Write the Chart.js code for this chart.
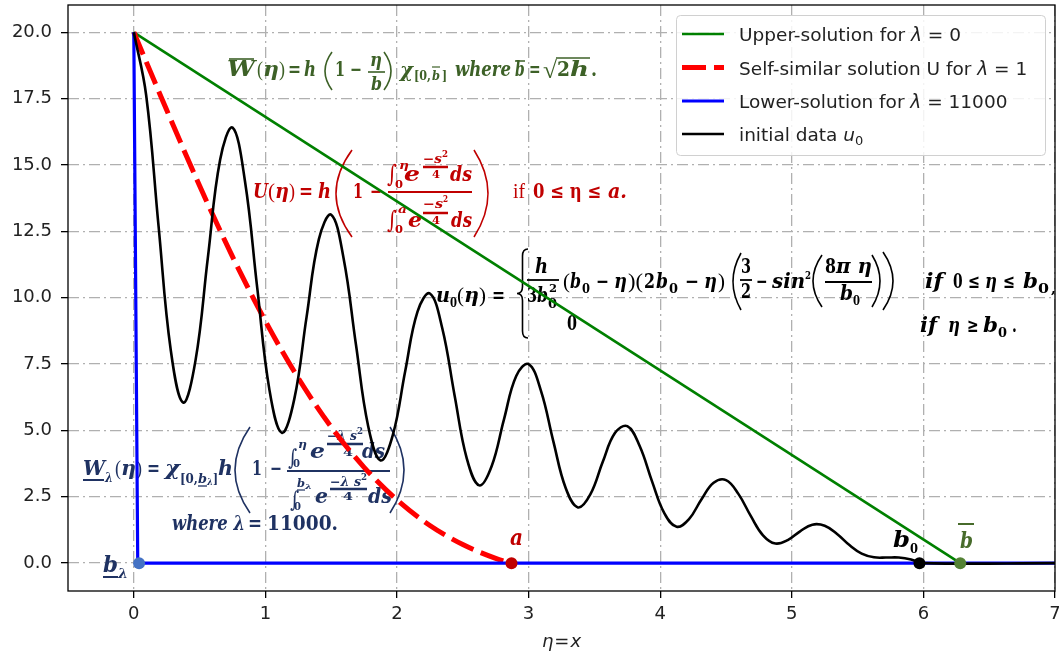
<!DOCTYPE html>
<html>
<head>
<meta charset="utf-8">
<script src="https://cdn.jsdelivr.net/npm/chart.js@4.4.1/dist/chart.umd.min.js"></script>
<style>
  html, body { margin: 0; padding: 0; background: #fff; overflow: hidden; }
  canvas { display: block; }
</style>
</head>
<body>
<canvas id="c" width="1059" height="654"></canvas>
<script>
// ---- data ----------------------------------------------------------------
// initial data u0(eta)
const u0Eta = [0, 0.094, 0.188, 0.281, 0.375, 0.469, 0.563, 0.656, 0.75, 0.844, 0.938, 1.031,
  1.125, 1.219, 1.313, 1.406, 1.5, 1.594, 1.688, 1.781, 1.875, 1.969, 2.063, 2.156, 2.25, 2.344,
  2.438, 2.531, 2.625, 2.719, 2.813, 2.906, 3, 3.094, 3.188, 3.281, 3.375, 3.469, 3.563, 3.656,
  3.75, 3.844, 3.938, 4.031, 4.125, 4.219, 4.313, 4.406, 4.5, 4.594, 4.688, 4.781, 4.875, 4.969,
  5.063, 5.156, 5.25, 5.344, 5.438, 5.531, 5.625, 5.719, 5.813, 5.906, 6, 7];
const u0Val = [20.0, 17.63, 12.71, 8.02, 6.05, 7.64, 11.52, 15.20, 16.41, 14.42, 10.37, 6.52,
  4.91, 6.17, 9.28, 12.20, 13.13, 11.49, 8.24, 5.16, 3.87, 4.84, 7.25, 9.48, 10.16, 8.85,
  6.31, 3.93, 2.93, 3.65, 5.42, 7.05, 7.50, 6.49, 4.59, 2.84, 2.10, 2.59, 3.81, 4.90,
  5.16, 4.41, 3.08, 1.88, 1.37, 1.66, 2.40, 3.03, 3.13, 2.61, 1.78, 1.05, 0.74, 0.87,
  1.20, 1.45, 1.41, 1.10, 0.68, 0.36, 0.22, 0.21, 0.21, 0.14, 0, 0];

// self-similar solution U (lambda = 1)
const uEta = [0, 0.25, 0.5, 0.75, 1, 1.25, 1.5, 1.75, 2, 2.25, 2.5, 2.75, 2.87];
const uVal = [20, 17.07, 14.22, 11.55, 9.12, 6.97, 5.13, 3.61, 2.38, 1.42, 0.70, 0.18, 0];

// upper solution (lambda = 0)
const upperEta = [0, 6.28];
const upperVal = [20, 0];

// lower solution (lambda = 11000)
const lowerEta = [0, 0.03, 7];
const lowerVal = [20, 0, 0];

// marked points b_lambda, a, b0, b-bar
const markEta = [0.04, 2.87, 5.97, 6.28];
const markVal = [0, 0, 0, 0];
const markColors = ['#4472c4', '#c00000', '#000000', '#548235'];

// axes
const xTicks = [0, 1, 2, 3, 4, 5, 6, 7];
const yTicks = [0, 2.5, 5, 7.5, 10, 12.5, 15, 17.5, 20];

const seriesLabels = [
  'Upper-solution for λ = 0',
  'Self-similar solution U for λ = 1',
  'Lower-solution for λ = 11000',
  'initial data u0'
];

// ---- helpers -------------------------------------------------------------
const pts = (xs, ys) => xs.map((x, i) => ({ x: x, y: ys[i] }));
const FORM = '"DejaVu Serif", "Liberation Serif", serif';
const FORM_R = '"Liberation Serif", "DejaVu Serif", serif';
const SANS = '"DejaVu Sans", "Liberation Sans", sans-serif';

function styleFont(st, size) {
  const s = Math.round(size * 0.9 * 10) / 10;
  switch (st) {
    case 'bi': return `italic bold ${s}px ${FORM}`;
    case 'b': return `normal bold ${s}px ${FORM}`;
    case 'int': return `normal normal ${size}px "DejaVu Serif", serif`;
    default: return `normal normal ${size}px ${FORM_R}`;
  }
}

// text stretched to span x1..x2 on a baseline y
function fitText(ctx, s, x1, x2, y, st, size) {
  ctx.font = styleFont(st, size);
  const w = ctx.measureText(s).width || 1;
  let k = (x2 - x1) / w;
  k = Math.max(0.7, Math.min(1.45, k));
  ctx.save();
  ctx.translate(x1, y);
  ctx.scale(k, 1);
  ctx.textAlign = 'left';
  ctx.textBaseline = 'alphabetic';
  ctx.fillText(s, 0, 0);
  ctx.restore();
}

function hline(ctx, x1, x2, y, lw) {
  ctx.beginPath();
  ctx.lineWidth = lw;
  ctx.moveTo(x1, y);
  ctx.lineTo(x2, y);
  ctx.stroke();
}

function paren(ctx, x1, x2, y1, y2, side) {
  const mid = (y1 + y2) / 2;
  ctx.beginPath();
  ctx.lineWidth = 1.6;
  if (side === 'L') {
    ctx.moveTo(x2, y1);
    ctx.quadraticCurveTo(2 * x1 - x2, mid, x2, y2);
  } else {
    ctx.moveTo(x1, y1);
    ctx.quadraticCurveTo(2 * x2 - x1, mid, x1, y2);
  }
  ctx.stroke();
}

function brace(ctx, x1, x2, y1, y2) {
  const xm = (x1 + x2) / 2, mid = (y1 + y2) / 2, r = 7;
  ctx.beginPath();
  ctx.lineWidth = 1.6;
  ctx.moveTo(x2, y1);
  ctx.quadraticCurveTo(xm, y1, xm, y1 + r);
  ctx.lineTo(xm, mid - r);
  ctx.quadraticCurveTo(xm, mid, x1, mid);
  ctx.quadraticCurveTo(xm, mid, xm, mid + r);
  ctx.lineTo(xm, y2 - r);
  ctx.quadraticCurveTo(xm, y2, x2, y2);
  ctx.stroke();
}

function drawOps(ctx, color, ops) {
  ctx.save();
  ctx.fillStyle = color;
  ctx.strokeStyle = color;
  for (const o of ops) {
    if (o[0] === 't') fitText(ctx, o[1], o[2], o[3], o[4], o[5], o[6]);
    else if (o[0] === 'h') hline(ctx, o[1], o[2], o[3], o[4]);
    else if (o[0] === 'p') paren(ctx, o[1], o[2], o[3], o[4], o[5]);
    else if (o[0] === 'br') brace(ctx, o[1], o[2], o[3], o[4]);
  }
  ctx.restore();
}

// ---- formula layouts ------------------------------------------------------
const upperFormula = [
  ['t', 'W', 227, 255, 76, 'bi', 24], ['h', 229, 254, 59, 1.6],
  ['t', '(', 257, 263, 76, 'r', 22], ['t', 'η', 263, 279, 76, 'bi', 22], ['t', ')', 279, 285, 76, 'r', 22],
  ['t', '=', 288, 301, 76, 'b', 22], ['t', 'h', 304, 316, 76, 'bi', 22],
  ['p', 325, 332, 52, 90, 'L'],
  ['t', '1', 335, 345, 76, 'b', 22], ['t', '−', 350, 362, 76, 'b', 22],
  ['t', 'η', 370, 382, 66, 'bi', 20], ['h', 368, 385, 72, 1.6], ['t', 'b', 371, 382, 90, 'bi', 20],
  ['p', 384, 391, 52, 90, 'R'],
  ['t', 'χ', 400, 413, 77, 'bi', 22],
  ['t', '[0,', 414, 431, 80, 'b', 14], ['t', 'b', 432, 440, 80, 'bi', 14], ['h', 432, 440, 67, 1.2],
  ['t', ']', 442, 447, 80, 'b', 14],
  ['t', 'where', 455, 511, 76, 'bi', 22],
  ['t', 'b', 515, 524, 76, 'bi', 22], ['h', 515, 525, 61, 1.5],
  ['t', '=', 529, 540, 76, 'b', 22],
  ['t', '√', 543, 557, 78, 'r', 24], ['h', 556, 590, 58, 1.5],
  ['t', '2', 557, 570, 76, 'b', 22], ['t', 'h', 570, 589, 76, 'bi', 22], ['t', '.', 591, 597, 76, 'b', 22]
];

const selfSimilarFormula = [
  ['t', 'U', 253, 268, 198, 'bi', 22], ['t', '(', 268, 275, 198, 'r', 22], ['t', 'η', 275, 289, 198, 'bi', 22],
  ['t', ')', 289, 295, 198, 'r', 22], ['t', '=', 299, 313, 198, 'b', 22], ['t', 'h', 318, 331, 198, 'bi', 22],
  ['p', 336, 352, 150, 237, 'L'],
  ['t', '1', 353, 363, 198, 'b', 22], ['t', '−', 370, 382, 198, 'b', 22],
  ['t', '∫', 387, 397, 182, 'int', 24], ['t', '0', 395, 403, 188, 'b', 12], ['t', 'η', 399, 409, 169, 'bi', 13],
  ['t', 'e', 404, 420, 181, 'bi', 22],
  ['t', '−s', 423, 442, 163, 'bi', 14], ['t', '2', 442, 448, 157, 'b', 10], ['h', 423, 448, 167, 2.5],
  ['t', '4', 432, 440, 178, 'b', 13],
  ['t', 'ds', 450, 472, 181, 'bi', 22],
  ['h', 388, 472, 192, 2],
  ['t', '∫', 387, 397, 228, 'int', 24], ['t', '0', 395, 403, 233, 'b', 12], ['t', 'a', 398, 407, 213, 'bi', 13],
  ['t', 'e', 408, 422, 227, 'bi', 22],
  ['t', '−s', 423, 443, 208, 'bi', 14], ['t', '2', 443, 448, 202, 'b', 10], ['h', 423, 448, 213, 2.5],
  ['t', '4', 432, 440, 224, 'b', 13],
  ['t', 'ds', 451, 472, 227, 'bi', 22],
  ['p', 474, 488, 150, 237, 'R'],
  ['t', 'if', 513, 525, 198, 'r', 22],
  ['t', '0 ≤ η ≤ ', 533, 607, 198, 'b', 22], ['t', 'a.', 608, 627, 198, 'bi', 22]
];

const initialFormula = [
  ['t', 'u', 436, 450, 302, 'bi', 22], ['t', '0', 450, 457, 307, 'b', 14],
  ['t', '(', 457, 464, 302, 'r', 22], ['t', 'η', 464, 479, 302, 'bi', 22], ['t', ')', 479, 486, 302, 'r', 22],
  ['t', '=', 492, 505, 302, 'b', 22],
  ['br', 517, 528, 249, 338],
  ['t', 'h', 535, 548, 273, 'bi', 22], ['h', 527, 559, 280, 1.8],
  ['t', '3', 527, 537, 302, 'b', 22], ['t', 'b', 537, 548, 302, 'bi', 22],
  ['t', '0', 548, 557, 308, 'b', 14], ['t', '2', 549, 557, 292, 'b', 12],
  ['t', '(', 563, 570, 288, 'r', 22], ['t', 'b', 570, 581, 288, 'bi', 22], ['t', '0', 582, 590, 293, 'b', 14],
  ['t', '−', 596, 609, 288, 'b', 22], ['t', 'η', 614, 627, 288, 'bi', 22], ['t', ')(', 628, 643, 288, 'r', 22],
  ['t', '2', 644, 655, 288, 'b', 22], ['t', 'b', 656, 668, 288, 'bi', 22], ['t', '0', 669, 678, 293, 'b', 14],
  ['t', '−', 685, 699, 288, 'b', 22], ['t', 'η', 704, 717, 288, 'bi', 22], ['t', ')', 718, 725, 288, 'r', 22],
  ['p', 733, 741, 253, 310, 'L'],
  ['t', '3', 741, 751, 273, 'b', 22], ['h', 740, 752, 280, 1.8], ['t', '2', 741, 751, 298, 'b', 22],
  ['t', '−', 756, 766, 288, 'b', 22],
  ['t', 'sin', 772, 805, 288, 'bi', 22], ['t', '2', 805, 811, 279, 'b', 12],
  ['p', 813, 822, 255, 307, 'L'],
  ['t', '8', 825, 836, 273, 'b', 22], ['t', 'π η', 836, 872, 273, 'bi', 22], ['h', 825, 872, 282, 1.8],
  ['t', 'b', 840, 853, 300, 'bi', 22], ['t', '0', 853, 860, 305, 'b', 14],
  ['p', 872, 880, 255, 307, 'R'],
  ['p', 883, 893, 252, 310, 'R'],
  ['t', 'if', 925, 943, 288, 'bi', 22],
  ['t', '0', 953, 962, 288, 'b', 22], ['t', '≤', 968, 980, 288, 'b', 22], ['t', 'η', 985, 997, 288, 'bi', 22],
  ['t', '≤', 1003, 1015, 288, 'b', 22], ['t', 'b', 1023, 1038, 288, 'bi', 22], ['t', '0', 1038, 1049, 293, 'b', 14],
  ['t', ',', 1051, 1056, 293, 'b', 14],
  ['t', '0', 567, 577, 330, 'b', 22],
  ['t', 'if', 920, 937, 332, 'bi', 22],
  ['t', 'η', 948, 960, 332, 'bi', 22], ['t', '≥', 967, 978, 332, 'b', 22], ['t', 'b', 983, 998, 332, 'bi', 22],
  ['t', '0', 998, 1007, 337, 'b', 14], ['t', '.', 1012, 1016, 332, 'b', 22]
];

const lowerFormula = [
  ['t', 'W', 83, 105, 475, 'bi', 22], ['h', 83, 104, 480, 2], ['t', 'λ', 105, 113, 482, 'bi', 14],
  ['t', '(', 115, 121, 475, 'r', 22], ['t', 'η', 121, 136, 475, 'bi', 22], ['t', ')', 136, 142, 475, 'r', 22],
  ['t', '=', 147, 160, 475, 'b', 22], ['t', 'χ', 165, 180, 475, 'bi', 22],
  ['t', '[0,', 180, 198, 483, 'b', 14], ['t', 'b', 198, 207, 483, 'bi', 14], ['h', 198, 207, 486, 1.3],
  ['t', 'λ', 207, 213, 485, 'bi', 10], ['t', ']', 213, 218, 483, 'b', 14],
  ['t', 'h', 218, 233, 475, 'bi', 22],
  ['p', 235, 250, 427, 513, 'L'],
  ['t', '1', 252, 262, 475, 'b', 22], ['t', '−', 270, 282, 475, 'b', 22],
  ['t', '∫', 288, 297, 465, 'int', 22], ['t', '0', 293, 300, 467, 'b', 12], ['t', 'η', 298, 307, 448, 'bi', 13],
  ['t', 'e', 310, 325, 458, 'bi', 22],
  ['t', '−λ s', 327, 357, 440, 'bi', 14], ['t', '2', 357, 363, 434, 'b', 10], ['h', 327, 363, 444, 2.5],
  ['t', '4', 343, 353, 456, 'b', 13],
  ['t', 'ds', 362, 385, 458, 'bi', 22],
  ['h', 287, 390, 471, 2],
  ['t', '∫', 290, 299, 507, 'int', 22], ['t', '0', 294, 301, 510, 'b', 12],
  ['t', 'b', 297, 305, 487, 'bi', 13], ['h', 297, 305, 490, 1.2], ['t', 'λ', 305, 312, 489, 'bi', 9],
  ['t', 'e', 315, 328, 503, 'bi', 22],
  ['t', '−λ s', 330, 361, 486, 'bi', 14], ['t', '2', 361, 367, 480, 'b', 10], ['h', 330, 367, 489, 2.5],
  ['t', '4', 343, 353, 500, 'b', 13],
  ['t', 'ds', 368, 392, 503, 'bi', 22],
  ['p', 390, 404, 427, 513, 'R'],
  ['t', 'where λ', 172, 245, 530, 'bi', 22], ['t', '=', 248, 262, 530, 'b', 22], ['t', '11000.', 267, 338, 530, 'b', 22]
];

const pointLabels = [
  ['#1f3262', [['t', 'b', 103, 118, 572, 'bi', 25], ['h', 103, 118, 577, 2], ['t', 'λ', 118, 128, 578, 'bi', 15]]],
  ['#c00000', [['t', 'a', 510, 523, 545, 'bi', 25]]],
  ['#000000', [['t', 'b', 893, 910, 547, 'bi', 25], ['t', '0', 910, 918, 553, 'b', 15]]],
  ['#476b2b', [['t', 'b', 960, 973, 548, 'bi', 25], ['h', 958, 974, 524, 2]]]
];

// ---- plugins --------------------------------------------------------------
const annotations = {
  id: 'formulas',
  beforeDatasetsDraw(chart) {
    const ctx = chart.ctx;
    drawOps(ctx, '#3d6127', upperFormula);
    drawOps(ctx, '#c00000', selfSimilarFormula);
    drawOps(ctx, '#000000', initialFormula);
    drawOps(ctx, '#1f3262', lowerFormula);
    for (const [c, ops] of pointLabels) drawOps(ctx, c, ops);
  }
};

const frameAndLegend = {
  id: 'frameAndLegend',
  afterDraw(chart) {
    const ctx = chart.ctx;
    const a = chart.chartArea;
    ctx.save();
    // axes frame
    ctx.strokeStyle = '#000';
    ctx.lineWidth = 1.3;
    ctx.strokeRect(a.left, a.top, a.right - a.left, a.bottom - a.top);

    // x-axis title  (eta = x)
    ctx.fillStyle = '#222';
    ctx.textBaseline = 'alphabetic';
    ctx.textAlign = 'left';
    const cx = (a.left + a.right) / 2;
    ctx.font = `italic 18px ${SANS}`;
    const wEta = ctx.measureText('η').width, wX = ctx.measureText('x').width;
    ctx.font = `normal 18px ${SANS}`;
    const wEq = ctx.measureText('=').width;
    let x = cx - (wEta + wEq + wX + 2) / 2;
    ctx.font = `italic 18px ${SANS}`; ctx.fillText('η', x, 647); x += wEta + 1;
    ctx.font = `normal 18px ${SANS}`; ctx.fillText('=', x, 647); x += wEq + 1;
    ctx.font = `italic 18px ${SANS}`; ctx.fillText('x', x, 647);

    // legend box
    const bx = 676.5, by = 15.5, bw = 369, bh = 140, r = 4;
    ctx.beginPath();
    ctx.moveTo(bx + r, by);
    ctx.arcTo(bx + bw, by, bx + bw, by + bh, r);
    ctx.arcTo(bx + bw, by + bh, bx, by + bh, r);
    ctx.arcTo(bx, by + bh, bx, by, r);
    ctx.arcTo(bx, by, bx + bw, by, r);
    ctx.closePath();
    ctx.fillStyle = 'rgba(255,255,255,0.85)';
    ctx.fill();
    ctx.strokeStyle = '#d0d0d0';
    ctx.lineWidth = 1;
    ctx.stroke();

    const rows = [34, 67.5, 101, 134];
    const parts = [
      [['Upper-solution for ', 'n'], ['λ', 'i'], [' = 0', 'n']],
      [['Self-similar solution U for ', 'n'], ['λ', 'i'], [' = 1', 'n']],
      [['Lower-solution for ', 'n'], ['λ', 'i'], [' = 11000', 'n']],
      [['initial data ', 'n'], ['u', 'i'], ['0', 's']]
    ];
    const ds = chart.data.datasets;
    for (let i = 0; i < 4; i++) {
      const d = ds[i];
      const y = rows[i];
      ctx.beginPath();
      ctx.strokeStyle = d.borderColor;
      ctx.lineWidth = d.borderWidth;
      ctx.setLineDash(d.borderDash || []);
      ctx.lineCap = 'butt';
      ctx.moveTo(682, y);
      ctx.lineTo(724, y);
      ctx.stroke();
      ctx.setLineDash([]);
      let tx = 739;
      ctx.fillStyle = '#222';
      for (const [s, st] of parts[i]) {
        if (st === 's') {
          ctx.font = `normal 13px ${SANS}`;
          ctx.fillText(s, tx, y + 11);
          tx += ctx.measureText(s).width;
        } else {
          ctx.font = `${st === 'i' ? 'italic' : 'normal'} 18.5px ${SANS}`;
          ctx.fillText(s, tx, y + 7);
          tx += ctx.measureText(s).width;
        }
      }
    }
    ctx.restore();
  }
};

// ---- chart ----------------------------------------------------------------
const gridCommon = {
  color: '#b0b0b0',
  lineWidth: 1.3,
  drawTicks: true,
  tickLength: 7,
  tickColor: '#000',
  tickWidth: 1.3
};

new Chart(document.getElementById('c'), {
  type: 'line',
  data: {
    datasets: [
      { label: seriesLabels[0], data: pts(upperEta, upperVal), borderColor: '#008000', borderWidth: 2.6,
        pointRadius: 0, tension: 0, order: 4 },
      { label: seriesLabels[1], data: pts(uEta, uVal), borderColor: '#ff0000', borderWidth: 5,
        borderDash: [24, 8], pointRadius: 0, cubicInterpolationMode: 'monotone', order: 3 },
      { label: seriesLabels[2], data: pts(lowerEta, lowerVal), borderColor: '#0000ff', borderWidth: 3.2,
        pointRadius: 0, tension: 0, order: 2 },
      { label: seriesLabels[3], data: pts(u0Eta, u0Val), borderColor: '#000000', borderWidth: 2.6,
        pointRadius: 0, tension: 0.4, order: 1 },
      { label: 'marks', data: pts(markEta, markVal), showLine: false, pointRadius: 6,
        pointBackgroundColor: markColors, pointBorderColor: markColors, pointBorderWidth: 0, order: 0 }
    ]
  },
  options: {
    responsive: false,
    animation: false,
    events: [],
    layout: { autoPadding: false, padding: { top: 5, right: 4, left: 0, bottom: 0 } },
    plugins: { legend: { display: false }, tooltip: { enabled: false } },
    scales: {
      x: {
        type: 'linear', min: -0.5, max: 7,
        afterBuildTicks: (s) => { s.ticks = xTicks.map(v => ({ value: v })); },
        afterFit: (s) => { s.height = 63; s.paddingLeft = 0; s.paddingRight = 0; },
        grid: gridCommon,
        border: { display: false, dash: [11, 4, 2, 4] },
        ticks: { color: '#222', font: { family: SANS, size: 18 }, padding: 6, maxRotation: 0,
          callback: (v) => String(v) }
      },
      y: {
        type: 'linear', min: -1.05, max: 21.03,
        afterBuildTicks: (s) => { s.ticks = yTicks.map(v => ({ value: v })); },
        afterFit: (s) => { s.width = 68; s.paddingTop = 0; s.paddingBottom = 0; },
        grid: gridCommon,
        border: { display: false, dash: [11, 4, 2, 4] },
        ticks: { color: '#222', font: { family: SANS, size: 18 }, padding: 9,
          callback: (v) => Number(v).toFixed(1) }
      }
    }
  },
  plugins: [annotations, frameAndLegend]
});
</script>
</body>
</html>
